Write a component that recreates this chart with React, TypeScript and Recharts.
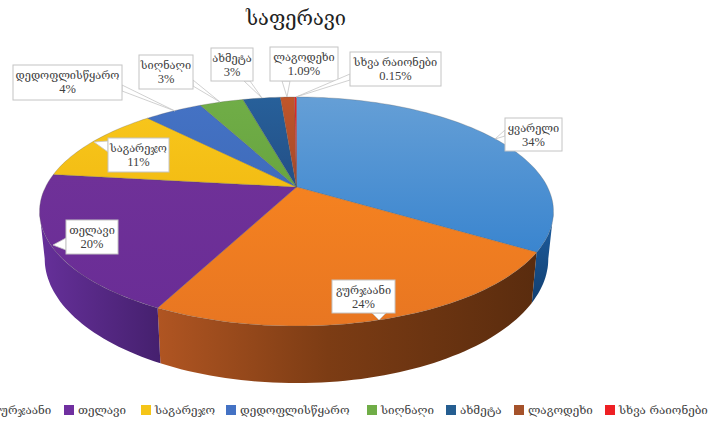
import { PieChart, Pie, Cell, Legend } from 'recharts';

const districts = ['ყვარელი', 'გურჯაანი', 'თელავი', 'საგარეჯო', 'დედოფლისწყარო', 'სიღნაღი', 'ახმეტა', 'ლაგოდეხი', 'სხვა რაიონები'];
const shares = [33.9, 23.5, 19.5, 11.1, 4.49, 3.4, 2.9, 1.09, 0.15];
const shareLabels = ['34%', '24%', '20%', '11%', '4%', '3%', '3%', '1.09%', '0.15%'];
const colors = ['#5b9bd5', '#ed7d31', '#7030a0', '#f5c518', '#4472c4', '#70ad47', '#255e91', '#a5522a', '#ee2024'];

const data = districts.map((name, i) => ({ name, value: shares[i] }));

// label boxes: x, y, w, h, pointer tip, pointer base
const labelBoxes = [
  { x: 505, y: 118, w: 57, h: 33, tip: [495, 139], base: [505, 130, 505, 136] },
  { x: 332, y: 280, w: 63, h: 33, tip: [379, 320], base: [372, 313, 386, 313] },
  { x: 66, y: 220, w: 52, h: 34, tip: [53, 245], base: [66, 238, 66, 250] },
  { x: 108, y: 138, w: 61, h: 34, tip: [94, 142], base: [108, 141, 108, 152] },
  { x: 13, y: 65, w: 109, h: 35, tip: [175, 111], base: [122, 85, 122, 91] },
  { x: 139, y: 55, w: 54, h: 34, tip: [220, 102], base: [193, 80, 193, 86] },
  { x: 211, y: 48, w: 42, h: 33, tip: [262, 98], base: [244, 81, 250, 81] },
  { x: 270, y: 47, w: 68, h: 34, tip: [287, 97], base: [282, 81, 290, 81] },
  { x: 350, y: 52, w: 91, h: 34, tip: [296, 97], base: [350, 74, 350, 80] },
];

const legendX = [-21, 64, 141, 226, 367, 446, 514, 605];
const legendNames = districts.slice(1);

// projected disc: apex at cx/cy, near edge bigger than far edge
const RX = 251;
const RY = 109.3;
const K = 0.214;
const DEPTH = 44.8;
const WALL_FROM = 102.4;
const WALL_TO = 257.6;

const rimPoint = (clock: number, cx: number, cy: number, lower: boolean) => {
  const a = (clock * Math.PI) / 180;
  const u = Math.sin(a);
  const v = -Math.cos(a);
  const d = 1 - K * v;
  if (lower) return [cx + (RX * 0.98 * u) / d, cy + (RY * v + DEPTH) / d];
  return [cx + (RX * u) / d, cy + (RY * v) / d];
};

const arcPoints = (from: number, to: number, cx: number, cy: number, lower: boolean) => {
  const pts: number[][] = [];
  const n = Math.max(2, Math.ceil(Math.abs(to - from) / 1.5));
  for (let i = 0; i <= n; i++) pts.push(rimPoint(from + ((to - from) * i) / n, cx, cy, lower));
  return pts;
};

const toPath = (pts: number[][]) => pts.map((p, i) => `${i ? 'L' : 'M'}${p[0].toFixed(1)},${p[1].toFixed(1)}`).join(' ') + ' Z';

const Slice = (props: any) => {
  const { cx, cy, startAngle, endAngle, index } = props;
  const from = 90 - startAngle;
  const to = 90 - endAngle;
  const top = [[cx, cy], ...arcPoints(from, to, cx, cy, false)];
  const wallFrom = Math.max(from, WALL_FROM);
  const wallTo = Math.min(to, WALL_TO);
  return (
    <g>
      {wallTo > wallFrom && (
        <path
          d={toPath([...arcPoints(wallFrom, wallTo, cx, cy, false), ...arcPoints(wallTo, wallFrom, cx, cy, true)])}
          fill={`url(#wall${index})`}
        />
      )}
      <path d={toPath(top)} fill={`url(#top${index})`} stroke="#5a5a5a" strokeOpacity={0.35} strokeWidth={0.8} />
    </g>
  );
};

const CalloutLabel = (props: any) => {
  const i = props.index;
  const box = labelBoxes[i];
  const b = box.base;
  const midX = box.x + box.w / 2;
  return (
    <g>
      <polygon points={`${b[0]},${b[1]} ${box.tip[0]},${box.tip[1]} ${b[2]},${b[3]}`} fill="#fff" stroke="#c4c4c4" strokeWidth={0.8} />
      <rect x={box.x} y={box.y} width={box.w} height={box.h} fill="#fff" stroke="#c4c4c4" strokeWidth={1} />
      <text x={midX} y={box.y + 14} textAnchor="middle" fontSize={11} fill="#404040" fontFamily="'Liberation Serif','DejaVu Serif',serif">
        {districts[i]}
      </text>
      <text x={midX} y={box.y + 28} textAnchor="middle" fontSize={12.5} fill="#404040" fontFamily="'Liberation Serif','DejaVu Serif',serif">
        {shareLabels[i]}
      </text>
    </g>
  );
};

const LegendRow = () => (
  <div style={{ position: 'relative', width: 708, height: 24 }}>
    {legendNames.map((name, i) => (
      <div key={name} style={{ position: 'absolute', left: legendX[i], top: 0, display: 'flex', alignItems: 'center', whiteSpace: 'nowrap' }}>
        <span style={{ width: 10, height: 10, background: colors[i + 1], marginRight: 4, display: 'inline-block' }} />
        <span style={{ fontSize: 11.6, color: '#404040', fontFamily: "'DejaVu Serif','DejaVu Sans',serif" }}>{name}</span>
      </div>
    ))}
  </div>
);

export default function App() {
  return (
    <div style={{ position: 'absolute', left: 0, top: 0, width: 708, height: 423, overflow: 'hidden', background: '#fff' }}>
      <div style={{ position: 'absolute', left: 0, width: 592, top: 6, textAlign: 'center', fontSize: 20, color: '#222', fontFamily: "'DejaVu Serif','DejaVu Sans',serif", zIndex: 1 }}>
        საფერავი
      </div>
      <PieChart width={708} height={423} margin={{ top: 0, right: 0, bottom: 0, left: 0 }} style={{ overflow: 'hidden' }}>
        <defs>
          <linearGradient id="top0" x1="0" y1="0" x2="0" y2="1">
            <stop offset="0%" stopColor="#659fd6" />
            <stop offset="100%" stopColor="#3a85cf" />
          </linearGradient>
          <linearGradient id="top1" x1="0" y1="0" x2="0" y2="1">
            <stop offset="0%" stopColor="#f58220" />
            <stop offset="100%" stopColor="#e87622" />
          </linearGradient>
          <linearGradient id="top2" x1="0" y1="0" x2="0" y2="1">
            <stop offset="0%" stopColor="#6f3198" />
            <stop offset="100%" stopColor="#6a2d96" />
          </linearGradient>
          <linearGradient id="top3" x1="0" y1="0" x2="0" y2="1">
            <stop offset="0%" stopColor="#f7c51b" />
            <stop offset="100%" stopColor="#f3bd14" />
          </linearGradient>
          <linearGradient id="top4" x1="0" y1="0" x2="0" y2="1">
            <stop offset="0%" stopColor="#4472c4" />
            <stop offset="100%" stopColor="#3f6cbb" />
          </linearGradient>
          <linearGradient id="top5" x1="0" y1="0" x2="0" y2="1">
            <stop offset="0%" stopColor="#70ad47" />
            <stop offset="100%" stopColor="#68a540" />
          </linearGradient>
          <linearGradient id="top6" x1="0" y1="0" x2="0" y2="1">
            <stop offset="0%" stopColor="#27609a" />
            <stop offset="100%" stopColor="#234f86" />
          </linearGradient>
          <linearGradient id="top7" x1="0" y1="0" x2="0" y2="1">
            <stop offset="0%" stopColor="#c0562a" />
            <stop offset="100%" stopColor="#a5482a" />
          </linearGradient>
          <linearGradient id="top8" x1="0" y1="0" x2="0" y2="1">
            <stop offset="0%" stopColor="#ee2024" />
            <stop offset="100%" stopColor="#ee2024" />
          </linearGradient>
          <linearGradient id="wall0" x1="0" y1="0" x2="0" y2="1">
            <stop offset="0%" stopColor="#1d5fa3" />
            <stop offset="100%" stopColor="#123f70" />
          </linearGradient>
          <linearGradient id="wall1" x1="0" y1="0" x2="1" y2="0">
            <stop offset="0%" stopColor="#b05522" />
            <stop offset="45%" stopColor="#7c3c14" />
            <stop offset="100%" stopColor="#5a2c0e" />
          </linearGradient>
          <linearGradient id="wall2" x1="0" y1="0" x2="1" y2="0">
            <stop offset="0%" stopColor="#66309a" />
            <stop offset="100%" stopColor="#45206e" />
          </linearGradient>
        </defs>
        <Pie
          data={data}
          dataKey="value"
          nameKey="name"
          cx={296.5}
          cy={187}
          outerRadius={100}
          startAngle={90}
          endAngle={-270}
          paddingAngle={0}
          stroke="none"
          shape={Slice}
          label={CalloutLabel}
          labelLine={false}
          isAnimationActive={false}
        >
          {data.map((entry, index) => (
            <Cell key={`cell-${index}`} fill={colors[index]} />
          ))}
        </Pie>
        <Legend content={LegendRow} wrapperStyle={{ position: 'absolute', left: 0, top: 403, width: 708, height: 20 }} />
      </PieChart>
    </div>
  );
}
